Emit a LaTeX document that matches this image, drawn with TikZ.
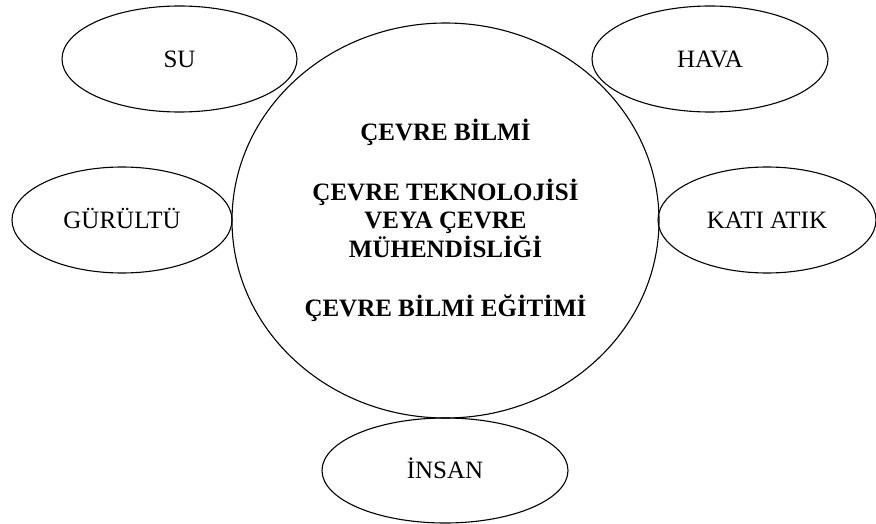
\documentclass[tikz,border=0pt]{standalone}
\usepackage{fontspec}
\setmainfont{Liberation Serif}
\usetikzlibrary{shapes.geometric}

\begin{document}
\begin{tikzpicture}[x=1pt, y=-1pt, line width=1.1pt,
    topic/.style={draw, ellipse, inner sep=0pt, minimum height=106pt,
      text height=16.5pt, text depth=0pt, font=\fontsize{25}{28.5}\selectfont},
    core/.style={draw, ellipse, inner sep=0pt, align=center,
      font=\bfseries\fontsize{25}{28.5}\selectfont}]
      \useasboundingbox (0,0) rectangle (876,524);
      % central field
      \node[core, minimum width=427pt, minimum height=395pt] (cevre) at (445.5,220.5)
        {ÇEVRE BİLMİ\\[31pt] ÇEVRE TEKNOLOJİSİ\\ VEYA ÇEVRE\\ MÜHENDİSLİĞİ\\[31pt] ÇEVRE BİLMİ EĞİTİMİ};
      % topics around it
      \node[topic, minimum width=235pt] (su) at (179.5,59) {SU};
      \node[topic, minimum width=236pt] (hava) at (710,59) {HAVA};
      \node[topic, minimum width=220pt] (gurultu) at (122,220) {GÜRÜLTÜ};
      \node[topic, minimum width=218pt] (katiatik) at (767,220) {KATI ATIK};
      \node[topic, minimum width=246pt, minimum height=105pt] (insan) at (445,470.5) {İNSAN};
    \end{tikzpicture}
\end{document}
